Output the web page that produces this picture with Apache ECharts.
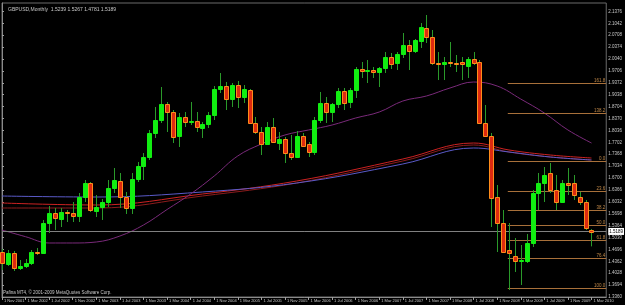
<!DOCTYPE html>
<html>
<head>
<meta charset="utf-8">
<script src="https://cdn.jsdelivr.net/npm/echarts@6/dist/echarts.min.js"></script>
<style>
  html, body { margin: 0; padding: 0; background: #000; }
  #chart { width: 625px; height: 305px; }
</style>
</head>
<body>
<div id="chart"></div>
<script>
// GBPUSD monthly, Nov 2001 .. Mar 2010
const months = [
  'Nov 2001', 'Dec 2001',
  'Jan 2002', 'Feb 2002', 'Mar 2002', 'Apr 2002', 'May 2002', 'Jun 2002', 'Jul 2002', 'Aug 2002', 'Sep 2002', 'Oct 2002', 'Nov 2002', 'Dec 2002',
  'Jan 2003', 'Feb 2003', 'Mar 2003', 'Apr 2003', 'May 2003', 'Jun 2003', 'Jul 2003', 'Aug 2003', 'Sep 2003', 'Oct 2003', 'Nov 2003', 'Dec 2003',
  'Jan 2004', 'Feb 2004', 'Mar 2004', 'Apr 2004', 'May 2004', 'Jun 2004', 'Jul 2004', 'Aug 2004', 'Sep 2004', 'Oct 2004', 'Nov 2004', 'Dec 2004',
  'Jan 2005', 'Feb 2005', 'Mar 2005', 'Apr 2005', 'May 2005', 'Jun 2005', 'Jul 2005', 'Aug 2005', 'Sep 2005', 'Oct 2005', 'Nov 2005', 'Dec 2005',
  'Jan 2006', 'Feb 2006', 'Mar 2006', 'Apr 2006', 'May 2006', 'Jun 2006', 'Jul 2006', 'Aug 2006', 'Sep 2006', 'Oct 2006', 'Nov 2006', 'Dec 2006',
  'Jan 2007', 'Feb 2007', 'Mar 2007', 'Apr 2007', 'May 2007', 'Jun 2007', 'Jul 2007', 'Aug 2007', 'Sep 2007', 'Oct 2007', 'Nov 2007', 'Dec 2007',
  'Jan 2008', 'Feb 2008', 'Mar 2008', 'Apr 2008', 'May 2008', 'Jun 2008', 'Jul 2008', 'Aug 2008', 'Sep 2008', 'Oct 2008', 'Nov 2008', 'Dec 2008',
  'Jan 2009', 'Feb 2009', 'Mar 2009', 'Apr 2009', 'May 2009', 'Jun 2009', 'Jul 2009', 'Aug 2009', 'Sep 2009', 'Oct 2009', 'Nov 2009', 'Dec 2009',
  'Jan 2010', 'Feb 2010', 'Mar 2010'
];

const opens = [
  1.4623, 1.4287, 1.4595, 1.4174, 1.4230, 1.4315, 1.4623, 1.4600, 1.5437, 1.5718,
  1.5550, 1.5746, 1.5720, 1.5634, 1.6167, 1.6560, 1.5774, 1.5887, 1.6027, 1.6420,
  1.6616, 1.6167, 1.5858, 1.6672, 1.7037, 1.7290, 1.7964, 1.8329, 1.8778, 1.8553,
  1.7879, 1.8413, 1.8272, 1.8300, 1.8104, 1.8216, 1.8469, 1.9199, 1.9283, 1.8918,
  1.9311, 1.8974, 1.9171, 1.8244, 1.7992, 1.7655, 1.8132, 1.7683, 1.7795, 1.7402,
  1.7290, 1.7879, 1.7655, 1.7430, 1.8329, 1.8806, 1.8553, 1.8778, 1.9143, 1.8834,
  1.9171, 1.9760, 1.9704, 1.9720, 1.9690, 1.9788, 2.0097, 1.9929, 2.0181, 2.0434,
  2.0265, 2.0546, 2.0911, 2.0658, 1.9929, 1.9900, 1.9957, 1.9929, 1.9957, 1.9845,
  2.0041, 1.9957, 1.8244, 1.7879, 1.6167, 1.5437, 1.4679, 1.4511, 1.4371, 1.4371,
  1.4876, 1.6279, 1.6560, 1.6841, 1.6364, 1.6027, 1.6560, 1.6560, 1.6167, 1.6027,
  1.5239
];
const closes = [
  1.4315, 1.4595, 1.4174, 1.4230, 1.4315, 1.4623, 1.4600, 1.5437, 1.5718, 1.5578,
  1.5746, 1.5720, 1.5634, 1.6167, 1.6560, 1.5802, 1.5887, 1.6027, 1.6420, 1.6644,
  1.6167, 1.5858, 1.6672, 1.7037, 1.7290, 1.7964, 1.8329, 1.8778, 1.8553, 1.7851,
  1.8413, 1.8272, 1.8300, 1.8132, 1.8216, 1.8469, 1.9199, 1.9283, 1.8918, 1.9311,
  1.8974, 1.9199, 1.8244, 1.7992, 1.7655, 1.8132, 1.7711, 1.7795, 1.7402, 1.7290,
  1.7879, 1.7599, 1.7430, 1.8329, 1.8806, 1.8553, 1.8778, 1.9143, 1.8806, 1.9171,
  1.9760, 1.9704, 1.9720, 1.9690, 1.9788, 2.0097, 1.9901, 2.0181, 2.0434, 2.0265,
  2.0574, 2.0939, 2.0658, 1.9929, 1.9900, 1.9957, 1.9929, 1.9910, 1.9901, 2.0041,
  1.9929, 1.8244, 1.7879, 1.6139, 1.5437, 1.4623, 1.4595, 1.4371, 1.4399, 1.4876,
  1.6279, 1.6560, 1.6785, 1.6364, 1.6027, 1.6560, 1.6504, 1.6223, 1.6027, 1.5297,
  1.5189
];
const lows = [
  1.4118, 1.4230, 1.4090, 1.4118, 1.4174, 1.4258, 1.4539, 1.4567, 1.5157, 1.5241,
  1.5325, 1.5465, 1.5465, 1.5465, 1.6027, 1.5746, 1.5606, 1.5522, 1.5887, 1.6279,
  1.5858, 1.5690, 1.5690, 1.6588, 1.6644, 1.7206, 1.7823, 1.8244, 1.7992, 1.7683,
  1.7571, 1.8132, 1.8188, 1.7992, 1.7823, 1.8104, 1.8329, 1.9086, 1.8609, 1.8694,
  1.8665, 1.8806, 1.8216, 1.7936, 1.7346, 1.7627, 1.7683, 1.7486, 1.7122, 1.7206,
  1.7262, 1.7571, 1.7290, 1.7346, 1.8244, 1.8244, 1.8272, 1.8665, 1.8609, 1.8665,
  1.8946, 1.9508, 1.9367, 1.9508, 1.9255, 1.9648, 1.9760, 1.9732, 2.0069, 1.9732,
  2.0209, 2.0350, 2.0490, 1.9872, 1.9451, 1.9451, 1.9816, 1.9676, 1.9451, 1.9508,
  1.9872, 1.8216, 1.7851, 1.5325, 1.4623, 1.4595, 1.3557, 1.4062, 1.3697, 1.4315,
  1.4764, 1.5802, 1.6027, 1.6279, 1.5802, 1.5999, 1.6223, 1.6083, 1.5943, 1.5241,
  1.4781
];
const highs = [
  1.4708, 1.4679, 1.4651, 1.4399, 1.4427, 1.4679, 1.4736, 1.5522, 1.5915, 1.5858,
  1.5858, 1.5802, 1.6027, 1.6279, 1.6644, 1.6588, 1.6223, 1.6111, 1.6644, 1.6981,
  1.6841, 1.6308, 1.6841, 1.7150, 1.7402, 1.8048, 1.8694, 1.9255, 1.8834, 1.8609,
  1.8525, 1.8553, 1.8834, 1.8553, 1.8272, 1.8553, 1.9283, 1.9648, 1.9395, 1.9367,
  1.9423, 1.9311, 1.9199, 1.8413, 1.8132, 1.8272, 1.8384, 1.7992, 1.7851, 1.7908,
  1.8020, 1.7964, 1.7711, 1.8413, 1.9115, 1.8974, 1.8806, 1.9227, 1.9227, 1.9227,
  1.9816, 1.9957, 2.0013, 1.9816, 1.9816, 2.0237, 2.0209, 2.0237, 2.0771, 2.0574,
  2.0602, 2.1051, 2.1276, 2.0855, 2.0237, 2.0097, 2.0518, 2.0153, 2.0097, 2.0097,
  2.0237, 2.0013, 1.8750, 1.7964, 1.6504, 1.5802, 1.5437, 1.5016, 1.4820, 1.5129,
  1.6364, 1.6841, 1.7009, 1.7122, 1.6785, 1.6644, 1.6981, 1.6785, 1.6308, 1.6083,
  1.5267
];

// moving averages at a few months each
const purpleIdx = [0, 4, 8, 12, 16, 20, 24, 28, 32, 36, 40, 44, 48, 52, 56, 60, 64, 68, 72, 76, 80, 84, 88, 92, 96, 100];
const purpleVal = [1.5241, 1.5053, 1.4876, 1.4876, 1.4904, 1.5072, 1.5381, 1.5816, 1.6251, 1.6757, 1.7320, 1.7655, 1.7908,
  1.8048, 1.8188, 1.8385, 1.8553, 1.8862, 1.9002, 1.9227, 1.9395, 1.9283, 1.8917, 1.8525, 1.8048, 1.7683];
const longIdx = [0, 16, 34, 50, 68, 80, 86, 93, 100];
const redVal = [1.5999, 1.5943, 1.6251, 1.6616, 1.7234, 1.7683, 1.7487, 1.7346, 1.7262];
const maroonVal = [1.5858, 1.5858, 1.6195, 1.6560, 1.7178, 1.7627, 1.7430, 1.7290, 1.7206];
const blueVal = [1.6195, 1.6167, 1.6308, 1.6560, 1.7094, 1.7543, 1.7430, 1.7290, 1.7206];

// fibonacci levels
const fibLabels = ['161.8', '138.2', '0.0', '23.6', '38.2', '50.0', '61.8', '76.4', '100.0'];
const fibPrices = [1.9367, 1.8525, 1.7178, 1.6336, 1.5802, 1.5381, 1.4960, 1.4455, 1.3613];
const fibStart = 85.8;

const lastPrice = 1.5189;
const title = 'GBPUSD,Monthly  1.5239 1.5267 1.4781 1.5189';

const bullFill = '#11ee11';
const bearFill = '#dd2a10';
const bearEdge = '#ff8c1a';
const wickColor = '#2a9a2a';
const textColor = '#c8c8c8';
const xMax = 102.5;

const candleData = months.map((m, i) => [i, opens[i], closes[i], lows[i], highs[i]]);
const pairs = (idx, vals) => idx.map((x, k) => [x, vals[k]]);

const renderCandle = (params, api) => {
  const i = api.value(0);
  const o = api.value(1);
  const c = api.value(2);
  const pO = api.coord([i, o]);
  const pC = api.coord([i, c]);
  const pL = api.coord([i, api.value(3)]);
  const pH = api.coord([i, api.value(4)]);
  const x = Math.round(pO[0]) + 0.5;
  const up = c > o;
  const top = Math.round(Math.min(pO[1], pC[1]));
  const bot = Math.round(Math.max(pO[1], pC[1]));
  return {
    type: 'group',
    children: [
      {
        type: 'line',
        shape: { x1: x, y1: pH[1], x2: x, y2: pL[1] },
        style: { stroke: wickColor, lineWidth: 1 }
      },
      {
        type: 'rect',
        shape: { x: x - 2, y: top + 0.5, width: 4, height: Math.max(bot - top, 1) },
        style: { fill: up ? bullFill : bearFill, stroke: up ? bullFill : bearEdge, lineWidth: 1 }
      }
    ]
  };
};

const maLine = (data, color) => ({
  type: 'line',
  data,
  smooth: 0.4,
  symbol: 'none',
  silent: true,
  z: 1,
  lineStyle: { color, width: 1 }
});

const fibMarks = fibPrices.map((v, k) => [
  {
    coord: [fibStart, v],
    label: {
      show: true,
      position: 'insideEndTop',
      distance: [1, 0],
      formatter: fibLabels[k],
      color: '#c08848',
      fontSize: 4.5,
      fontFamily: 'Liberation Sans'
    }
  },
  { coord: [xMax, v] }
]);

const chart = echarts.init(document.getElementById('chart'));
chart.setOption({
  backgroundColor: '#000',
  animation: false,
  title: {
    text: title,
    left: 3,
    top: 2,
    textStyle: { color: textColor, fontSize: 5, fontWeight: 'normal', fontFamily: 'Liberation Sans' }
  },
  graphic: [
    {
      type: 'text',
      left: 3,
      top: 290,
      style: {
        text: 'Pafina MT4, \u00a9 2001-2009 MetaQuotes Software Corp.',
        fill: textColor,
        fontSize: 4.5,
        fontFamily: 'Liberation Sans'
      }
    }
  ],
  grid: {
    left: 2,
    right: 16,
    top: 3,
    bottom: 8,
    show: true,
    borderColor: '#6a6a6a',
    borderWidth: 1
  },
  xAxis: {
    type: 'value',
    min: 0,
    max: xMax,
    interval: 4,
    splitLine: { show: false },
    axisLine: { show: true, lineStyle: { color: '#8a8a8a' } },
    axisTick: { show: true, length: 3, lineStyle: { color: '#a0a0a0' } },
    axisLabel: {
      color: textColor,
      fontSize: 4,
      fontFamily: 'Liberation Sans',
      align: 'left',
      margin: 2,
      padding: [0, 0, 0, 2],
      showMaxLabel: false,
      formatter: v => (Number.isInteger(v) && months[v] ? '1 ' + months[v] : '')
    }
  },
  yAxis: {
    type: 'value',
    position: 'right',
    min: 1.336,
    max: 2.1613,
    interval: 0.0334,
    scale: true,
    splitLine: { show: false },
    axisLine: { show: true, lineStyle: { color: '#8a8a8a' } },
    axisTick: { show: true, length: 2, lineStyle: { color: '#a0a0a0' } },
    axisLabel: {
      color: textColor,
      fontSize: 4.5,
      fontFamily: 'Liberation Sans',
      margin: 2,
      showMaxLabel: false,
      formatter: v => v.toFixed(4)
    }
  },
  series: [
    maLine(pairs(longIdx, maroonVal), '#8c1c1c'),
    maLine(pairs(longIdx, redVal), '#cc2222'),
    maLine(pairs(longIdx, blueVal), '#5a5ac8'),
    Object.assign(maLine(pairs(purpleIdx, purpleVal), '#7a2a7a'), {
      markLine: {
        silent: true,
        symbol: 'none',
        animation: false,
        lineStyle: { color: '#a8703a', width: 1, type: 'solid' },
        data: fibMarks.concat([
          {
            yAxis: lastPrice,
            lineStyle: { color: '#808080', width: 1, type: 'solid' },
            label: {
              show: true,
              position: 'end',
              distance: 2,
              formatter: lastPrice.toFixed(4),
              backgroundColor: '#ffffff',
              color: '#000000',
              fontSize: 4.5,
              fontFamily: 'Liberation Sans',
              padding: [1, 1]
            }
          }
        ])
      }
    }),
    {
      type: 'custom',
      renderItem: renderCandle,
      data: candleData,
      encode: { x: 0, y: [1, 2, 3, 4] },
      clip: false,
      z: 5
    }
  ]
});
</script>
</body>
</html>
